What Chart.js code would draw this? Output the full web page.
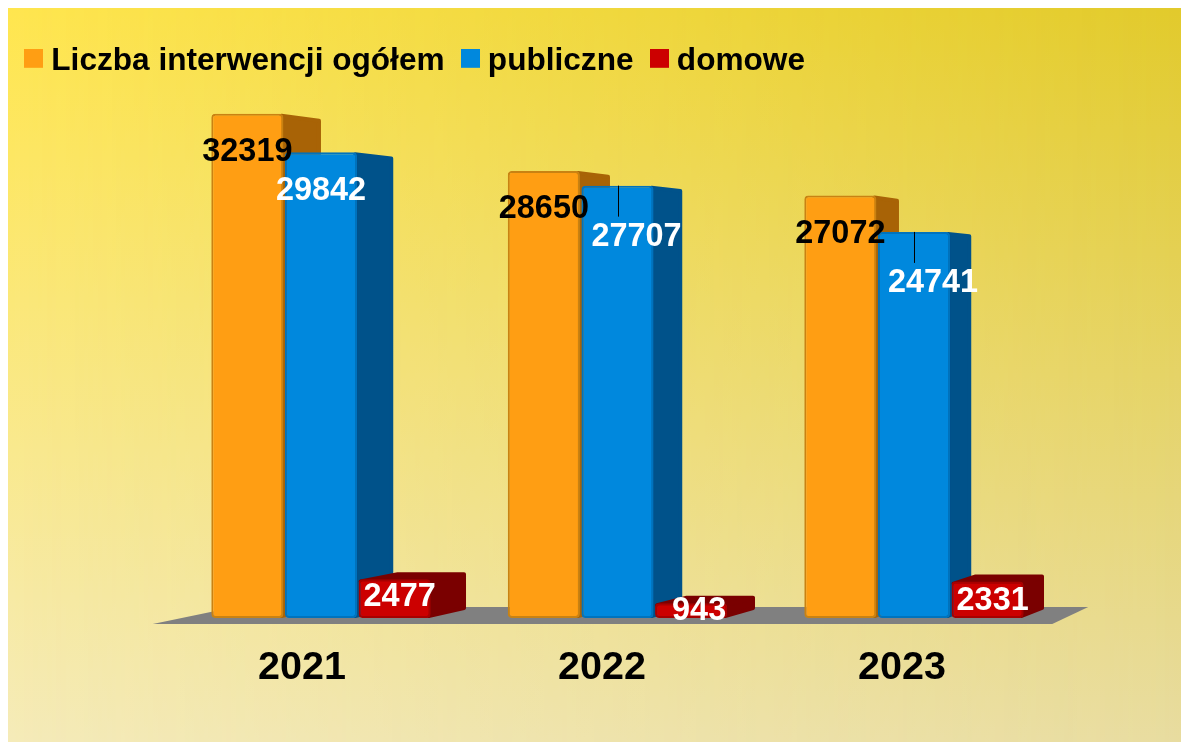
<!DOCTYPE html>
<html lang="pl">
<head>
<meta charset="utf-8">
<style>
html,body{margin:0;padding:0;background:#fff;}
#wrap{position:absolute;left:0;top:0;width:1181px;height:742px;}
</style>
<script src="https://cdn.jsdelivr.net/npm/chart.js@4"></script>
</head>
<body>
<div id="wrap"><canvas id="c" width="1181" height="742"></canvas></div>
<script>
const categories = ['2021', '2022', '2023'];
const seriesNames = ['Liczba interwencji ogółem', 'publiczne', 'domowe'];
const ogolem = [32319, 28650, 27072];
const publiczne = [29842, 27707, 24741];
const domowe = [2477, 943, 2331];

const frontColors = ['#ff9e13', '#0088dd', '#cc0000'];
const borderColors = ['#c98212', '#0073bd', '#a80000'];
const sideColors = ['#a86306', '#00528a', '#7a0000'];
const textColors = ['#000000', '#ffffff', '#ffffff'];
const labelFont = 'bold 32.4px "Liberation Sans"';
const depthExtra = [0.5, 1, 2];

// label offsets from the bar's top-centre [dx, dy, leader]
const labelNudges = [
  [[0, 38, 0], [0, 39, 0], [5, 18, 0]],
  [[0, 38, 0], [19, 51, 31], [8, 8, 0]],
  [[0, 39, 0], [19, 51, 31], [5, 19, 0]]
];

function legendSwatch(color) {
  const s = document.createElement('canvas');
  s.width = 19; s.height = 25;
  const g = s.getContext('2d');
  g.fillStyle = color; g.fillRect(0, 0, 19, 19);
  return s;
}
const swatches = frontColors.map(legendSwatch);

const depthAt = x => 44.2 - 0.0253 * x;

const chartDecor = {
  id: 'chartDecor',
  beforeDraw(chart) {
    const ctx = chart.ctx;
    const X0 = 8, Y0 = 8, W = 1173, H = 734;
    ctx.save();
    const v = ctx.createLinearGradient(0, Y0, 0, Y0 + H);
    v.addColorStop(0, '#ffe64f');
    v.addColorStop(1, '#f5ebb9');
    ctx.fillStyle = v;
    ctx.fillRect(X0, Y0, W, H);
    const off = document.createElement('canvas');
    off.width = W; off.height = H;
    const o = off.getContext('2d');
    const vr = o.createLinearGradient(0, 0, 0, H);
    vr.addColorStop(0, '#e2ca2c');
    vr.addColorStop(1, '#e8dca0');
    o.fillStyle = vr;
    o.fillRect(0, 0, W, H);
    o.globalCompositeOperation = 'destination-in';
    const h = o.createLinearGradient(0, 0, W, 0);
    h.addColorStop(0, 'rgba(0,0,0,0)');
    h.addColorStop(1, 'rgba(0,0,0,1)');
    o.fillStyle = h;
    o.fillRect(0, 0, W, H);
    ctx.drawImage(off, X0, Y0);
    ctx.restore();
  },
  beforeDatasetsDraw(chart) {
    const ctx = chart.ctx;
    const zero = chart.scales.y.getPixelForValue(0);
    const {left, right} = chart.chartArea;
    ctx.save();
    ctx.fillStyle = '#808080';
    ctx.beginPath();
    ctx.moveTo(left - 20, zero + 6);
    ctx.lineTo(right - 10, zero + 6);
    ctx.lineTo(right + 26, zero - 11);
    ctx.lineTo(left + 62, zero - 11);
    ctx.closePath();
    ctx.fill();
    ctx.lineJoin = 'round';
    ctx.lineWidth = 4;
    chart.data.datasets.forEach((ds, d) => {
      chart.getDatasetMeta(d).data.forEach(bar => {
        const r = bar.x + bar.width / 2;
        const l = bar.x - bar.width / 2;
        const h = bar.base - bar.y;
        const backTop = bar.base - 8 - 0.976 * h;
        const backBase = bar.base - 8;
        const dR = depthAt(r) + depthExtra[d], dL = depthAt(l) + depthExtra[d];
        ctx.fillStyle = ctx.strokeStyle = sideColors[d];
        ctx.beginPath();
        ctx.moveTo(r - 2, bar.y + 2);
        ctx.lineTo(r + dR - 2, backTop + 3);
        ctx.lineTo(r + dR - 2, backBase - 2);
        ctx.lineTo(r - 2, bar.base - 2);
        ctx.closePath();
        ctx.fill(); ctx.stroke();
        if (backTop < bar.y) {
          ctx.beginPath();
          ctx.moveTo(l + 2, bar.y + 2);
          ctx.lineTo(l + dL + 2, backTop + 2);
          ctx.lineTo(r + dR - 2, backTop + 2);
          ctx.lineTo(r - 2, bar.y + 2);
          ctx.closePath();
          ctx.fill(); ctx.stroke();
        }
      });
    });
    ctx.restore();
  },
  afterDatasetsDraw(chart) {
    const ctx = chart.ctx;
    ctx.save();
    ctx.font = labelFont;
    ctx.textAlign = 'center';
    ctx.textBaseline = 'middle';
    chart.data.datasets.forEach((ds, d) => {
      chart.getDatasetMeta(d).data.forEach((bar, i) => {
        const n = labelNudges[i][d];
        if (n[2]) {
          ctx.strokeStyle = '#000';
          ctx.lineWidth = 1;
          ctx.beginPath();
          ctx.moveTo(Math.round(bar.x) + 0.5, bar.y);
          ctx.lineTo(Math.round(bar.x) + 0.5, bar.y + n[2]);
          ctx.stroke();
        }
      });
    });
    chart.data.datasets.forEach((ds, d) => {
      chart.getDatasetMeta(d).data.forEach((bar, i) => {
        const n = labelNudges[i][d];
        ctx.fillStyle = textColors[d];
        ctx.fillText(String(ds.data[i]), bar.x + n[0], bar.y + n[1]);
      });
    });
    ctx.restore();
  }
};

new Chart(document.getElementById('c'), {
  type: 'bar',
  plugins: [chartDecor],
  data: {
    labels: categories,
    datasets: seriesNames.map((name, d) => ({
      label: name,
      data: [ogolem, publiczne, domowe][d],
      backgroundColor: frontColors[d],
      borderColor: borderColors[d],
      borderWidth: 2,
      borderRadius: 4,
      borderSkipped: false,
      categoryPercentage: 0.745,
      barPercentage: 0.98,
      xAxisID: 'x',
      yAxisID: 'y'
    }))
  },
  options: {
    responsive: false,
    animation: false,
    devicePixelRatio: 1,
    layout: {padding: {left: 8, top: 22, right: 0, bottom: 0}},
    plugins: {
      tooltip: {enabled: false},
      legend: {
        position: 'top',
        align: 'start',
        labels: {
          color: '#000',
          font: {family: '"Liberation Sans"', size: 31.6, weight: 'bold'},
          padding: 23.5,
          boxWidth: 4,
          usePointStyle: true,
          pointStyleWidth: 4,
          generateLabels(chart) {
            return chart.data.datasets.map((ds, d) => ({
              text: ds.label, fillStyle: frontColors[d], strokeStyle: frontColors[d],
              lineWidth: 0, pointStyle: swatches[d], datasetIndex: d, hidden: false
            }));
          }
        }
      }
    },
    scales: {
      x: {type: 'category', display: false, offset: true, grid: {display: false}},
      xLabels: {
        type: 'linear', position: 'bottom', offset: false,
        min: 2020.569, max: 2023.534,
        grid: {display: false}, border: {display: false},
        afterBuildTicks(s) { s.ticks = categories.map(c => ({value: +c})); },
        afterFit(s) { s.height = 124; },
        ticks: {
          autoSkip: false, padding: 18, color: '#000', maxRotation: 0,
          font: {family: '"Liberation Sans"', size: 39.5, weight: 'bold'},
          callback: v => String(v)
        }
      },
      y: {
        position: 'left', min: 0, max: 34021,
        grid: {display: false}, border: {display: false},
        ticks: {display: false},
        afterFit(s) { s.width = 164.75; }
      },
      yRight: {
        position: 'right', min: 0, max: 34021,
        grid: {display: false}, border: {display: false},
        ticks: {display: false},
        afterFit(s) { s.width = 118.75; }
      }
    }
  }
});
</script>
</body>
</html>
